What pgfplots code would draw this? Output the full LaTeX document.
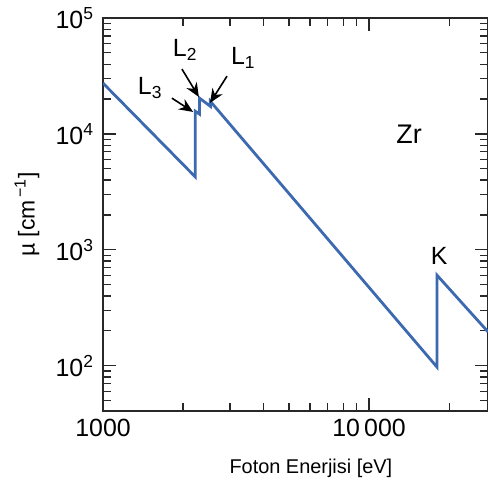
\documentclass[border=0pt]{standalone}
\usepackage{pgfplots}
\pgfplotsset{compat=1.18}
\usepackage{fontspec}
\setmainfont{Liberation Sans}
\usetikzlibrary{arrows.meta}
\definecolor{zrblue}{RGB}{60,105,175}
\definecolor{axgray}{RGB}{40,40,40}
\begin{document}
\begin{tikzpicture}[x=1bp,y=1bp]
\path[use as bounding box] (0,0) rectangle (488,483);
\begin{axis}[
  at={(103bp,72bp)}, anchor=south west,
  scale only axis, width=385bp, height=393bp,
  xmode=log, ymode=log,
  xmin=1000, xmax=28000, ymin=40.7, ymax=100000,
  axis line style={axgray, line width=1.4bp},
  tick style={axgray, line width=1.2bp},
  major tick length=13bp, minor tick length=8bp,
  tick align=inside,
  xtick={1000,10000}, xticklabels={1000,10\,000},
  minor xtick={2000,3000,4000,5000,6000,7000,8000,9000,20000},
  ytick={100,1000,10000,100000},
  yticklabels={10\textsuperscript{2},10\textsuperscript{3},10\textsuperscript{4},10\textsuperscript{5}},
  minor ytick={50,60,70,80,90,200,300,400,500,600,700,800,900,2000,3000,4000,5000,6000,7000,8000,9000,20000,30000,40000,50000,60000,70000,80000,90000},
  ticklabel style={font=\fontsize{25}{28}\selectfont, text=black},
  xticklabel style={yshift=-5bp},
  yticklabel style={xshift=-6bp},
  xlabel={Foton Enerjisi [eV]},
  xlabel style={font=\fontsize{20}{23}\selectfont, at={(rel axis cs:0.54,0)}, anchor=center, yshift=-57bp},
  ylabel={\textmu\ [cm\textsuperscript{\,−1}]},
  ylabel style={font=\fontsize{23}{26}\selectfont, at={(rel axis cs:0,0.50)}, anchor=center, xshift=0bp, yshift=76bp},
  clip=true,
]
\addplot[zrblue, line width=2.8bp, line join=miter] coordinates {
  (1000,27400)
  (2222,4260)
  (2222,15700)
  (2307,14800)
  (2307,20300)
  (2532,17300)
  (2532,19100)
  (17998,97.5)
  (17998,605)
  (28000,196)
};
\node[font=\fontsize{25}{28}\selectfont] at (rel axis cs:0.122,0.822) {L\textsubscript{3}};
\node[font=\fontsize{25}{28}\selectfont] at (rel axis cs:0.213,0.919) {L\textsubscript{2}};
\node[font=\fontsize{25}{28}\selectfont] at (rel axis cs:0.364,0.898) {L\textsubscript{1}};
\draw[-{Stealth[length=14bp,width=12bp]}, line width=1.6bp] (rel axis cs:0.179,0.796) -- (rel axis cs:0.234,0.761);
\draw[-{Stealth[length=14bp,width=12bp]}, line width=1.6bp] (rel axis cs:0.205,0.870) -- (rel axis cs:0.249,0.799);
\draw[-{Stealth[length=14bp,width=12bp]}, line width=1.6bp] (rel axis cs:0.322,0.852) -- (rel axis cs:0.278,0.784);
\node[font=\fontsize{27}{30}\selectfont] at (rel axis cs:0.795,0.705) {Zr};
\node[font=\fontsize{25}{28}\selectfont] at (rel axis cs:0.873,0.394) {K};
\end{axis}
\end{tikzpicture}
\end{document}
